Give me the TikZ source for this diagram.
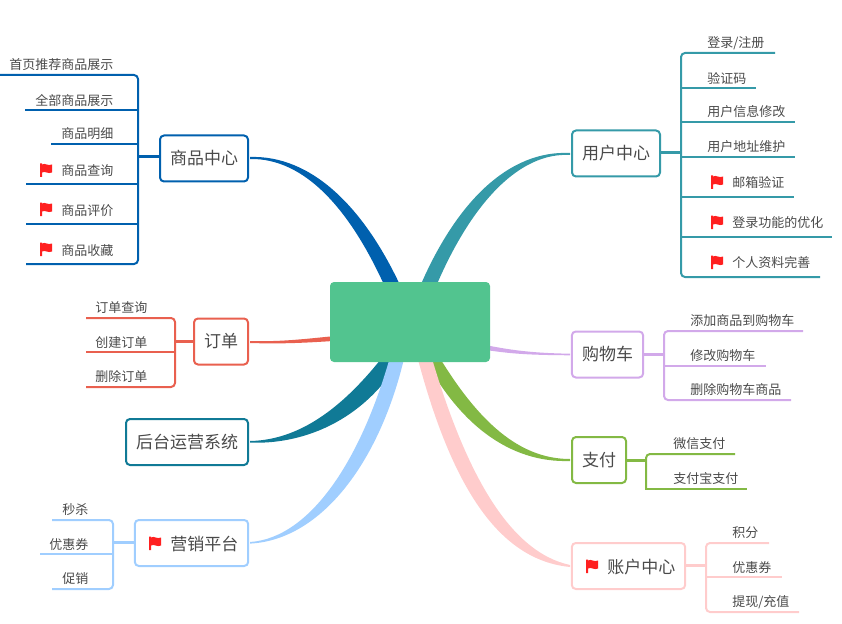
\documentclass[tikz,border=0pt]{standalone}
\usepackage{fontspec}
\setmainfont{Noto Sans CJK SC}
\usetikzlibrary{calc}
\definecolor{txtc}{HTML}{4A4A4A}
\definecolor{rootc}{HTML}{52C48F}
\definecolor{goods}{HTML}{0060AE}
\definecolor{user}{HTML}{359AA8}
\definecolor{order}{HTML}{E9604F}
\definecolor{admin}{HTML}{107A96}
\definecolor{promo}{HTML}{A0CEFF}
\definecolor{cart}{HTML}{D2A9EA}
\definecolor{payc}{HTML}{83B944}
\definecolor{acct}{HTML}{FFCCCC}
\definecolor{flagc}{HTML}{FF2020}
\tikzset{
  x=0.75pt,y=-0.75pt,
  topic/.style={draw,line width=1.5pt,rounded corners=3pt,fill=white,inner sep=0pt,outer sep=0pt,text=txtc,minimum height=34.5pt,font=\fontsize{12.75}{15}\selectfont},
  leaf/.style={text=txtc,inner sep=0pt,anchor=west,font=\fontsize{9.75}{12}\selectfont},
  toptext/.style={text=txtc,inner sep=0pt,anchor=west,font=\fontsize{12.75}{15}\selectfont},
  rule/.style={line width=1.5pt},
  trunk/.style={line width=1.5pt,rounded corners=3pt},
  stem/.style={line width=2.25pt},
}
\newcommand\ruleline[4]{\coordinate (#1a) at (#2,#4);\coordinate (#1b) at (#3,#4);\draw[rule] (#1a) -- (#1b);}
\newcommand\edgeline[4]{\coordinate (#1a) at (#2,#4);\coordinate (#1b) at (#3,#4);}
\newcommand\redflag[1]{\fill[flagc,shift={(#1)}] (-6,-6.5) -- (-4,-6.5) -- (-4,-5.5) .. controls (-1,-7.5) and (2,-3.5) .. (6,-5.5) -- (6,2.5) .. controls (2,4.5) and (-1,0.5) .. (-4,2.5) -- (-4,7) -- (-6,7) -- cycle;}
\begin{document}
\begin{tikzpicture}
\useasboundingbox (0,0) rectangle (842,624);
\coordinate (gE) at (250,158);
\coordinate (uW) at (570,154);
\coordinate (oE) at (250,342);
\coordinate (aE) at (250,441.8);
\coordinate (pE) at (250,542.8);
\coordinate (cW) at (570,354.5);
\coordinate (yW) at (570,460);
\coordinate (zW) at (570,566);
% tapered branches
\fill[goods] ($(gE)+(0,-1)$) .. controls (310,155) and (365,205) .. (405,296) -- (389,296) .. controls (352,210) and (305,158) .. ($(gE)+(0,1)$) -- cycle;
\fill[user] ($(uW)+(0,-1)$) .. controls (510,150) and (455,200) .. (416,296) -- (432,296) .. controls (470,202) and (520,152) .. ($(uW)+(0,1)$) -- cycle;
\fill[order] ($(oE)+(0,-1)$) .. controls (280,342) and (305,339) .. (340,335.5) -- (340,340.5) .. controls (305,343) and (280,344) .. ($(oE)+(0,1)$) -- cycle;
\fill[cart] ($(cW)+(0,-0.8)$) .. controls (530,353) and (510,350) .. (480,344) -- (480,349) .. controls (510,354) and (530,355) .. ($(cW)+(0,0.8)$) -- cycle;
\fill[admin] ($(aE)+(0,-0.8)$) .. controls (305,440) and (350,400) .. (388,350) -- (405,350) .. controls (375,410) and (315,445) .. ($(aE)+(0,0.8)$) -- cycle;
\fill[promo] ($(pE)+(0,-0.8)$) .. controls (310,538) and (362,460) .. (392,350) -- (406,350) .. controls (382,460) and (322,540) .. ($(pE)+(0,0.8)$) -- cycle;
\fill[payc] ($(yW)+(0,-1)$) .. controls (520,459) and (478,423) .. (435,350) -- (420,350) .. controls (458,425) and (510,463) .. ($(yW)+(0,1)$) -- cycle;
\fill[acct] ($(zW)+(0,1)$) .. controls (500,560) and (450,490) .. (413,340) -- (428,345) .. controls (465,475) and (510,552) .. ($(zW)+(0,-1)$) -- cycle;
% root
\node[fill=rootc,rounded corners=3pt,inner sep=0pt,minimum width=120pt,minimum height=60pt] (root) at (410,322) {};
% 商品中心
\begin{scope}[color=goods]
\node[topic,minimum width=66pt] (goodsbox) at (204,158.5) {商品中心};
\edgeline{g1}{0}{138}{75}\ruleline{g2}{25}{138}{110}\ruleline{g3}{51}{138}{144}\ruleline{g4}{26}{138}{184}\ruleline{g5}{26}{138}{224}\edgeline{g6}{26}{138}{264}
\coordinate (gT) at (138,157);
\draw[trunk] (g1a) -- (g1b) -- (g6b) -- (g6a);
\draw[stem] (goodsbox.west |- gT) -- (gT);
\end{scope}
\node[leaf] (g1t) at (9,65) {首页推荐商品展示};
\node[leaf] (g2t) at (35,100) {全部商品展示};
\node[leaf] (g3t) at (61,134) {商品明细};
\node[leaf] (g4t) at (61,171) {商品查询};
\node[leaf] (g5t) at (61,211) {商品评价};
\node[leaf] (g6t) at (61,251) {商品收藏};
\redflag{46,170}\redflag{46,209}\redflag{46,249}
% 用户中心
\begin{scope}[color=user]
\node[topic,minimum width=66pt] (userbox) at (616,153.5) {用户中心};
\edgeline{u1}{681}{775}{53}\ruleline{u2}{681}{756}{88}\ruleline{u3}{681}{795}{122}\ruleline{u4}{681}{795}{157}\ruleline{u5}{681}{794}{197}\ruleline{u6}{681}{832}{237}\edgeline{u7}{681}{820}{277}
\coordinate (uT) at (681,153);
\draw[trunk] (u1b) -- (u1a) -- (u7a) -- (u7b);
\draw[stem] (userbox.east |- uT) -- (uT);
\end{scope}
\node[leaf] (u1t) at (707,43) {登录/注册};
\node[leaf] (u2t) at (707,78) {验证码};
\node[leaf] (u3t) at (707,112) {用户信息修改};
\node[leaf] (u4t) at (707,147) {用户地址维护};
\node[leaf] (u5t) at (732,183) {邮箱验证};
\node[leaf] (u6t) at (732,223) {登录功能的优化};
\node[leaf] (u7t) at (732,263) {个人资料完善};
\redflag{717,182}\redflag{717,222}\redflag{717,262}
% 订单
\begin{scope}[color=order]
\node[topic,minimum width=40.5pt] (orderbox) at (221,341.5) {订单};
\edgeline{o1}{86}{175}{318}\ruleline{o2}{86}{175}{352}\edgeline{o3}{86}{175}{387}
\coordinate (oT) at (175,341);
\draw[trunk] (o1a) -- (o1b) -- (o3b) -- (o3a);
\draw[stem] (orderbox.west |- oT) -- (oT);
\end{scope}
\node[leaf] (o1t) at (95,308) {订单查询};
\node[leaf] (o2t) at (95,343) {创建订单};
\node[leaf] (o3t) at (95,377) {删除订单};
% 后台运营系统
\begin{scope}[color=admin]
\node[topic,minimum width=91.5pt] (adminbox) at (187,442) {后台运营系统};
\end{scope}
% 营销平台
\begin{scope}[color=promo]
\node[topic,minimum width=85pt] (promobox) at (191.5,543) {};
\edgeline{p1}{52}{113}{520}\ruleline{p2}{40}{113}{554}\edgeline{p3}{52}{113}{589}
\coordinate (pT) at (113,542);
\draw[trunk] (p1a) -- (p1b) -- (p3b) -- (p3a);
\draw[stem] (promobox.west |- pT) -- (pT);
\end{scope}
\node[toptext] (ptext) at (170,544) {营销平台};
\redflag{155,543}
\node[leaf] (p1t) at (62,510) {秒杀};
\node[leaf] (p2t) at (49,545) {优惠券};
\node[leaf] (p3t) at (62,579) {促销};
% 购物车
\begin{scope}[color=cart]
\node[topic,minimum width=53.5pt] (cartbox) at (607.5,354.5) {购物车};
\edgeline{c1}{664}{803}{331}\ruleline{c2}{664}{766}{366}\edgeline{c3}{664}{791}{400}
\coordinate (cT) at (664,354);
\draw[trunk] (c1b) -- (c1a) -- (c3a) -- (c3b);
\draw[stem] (cartbox.east |- cT) -- (cT);
\end{scope}
\node[leaf] (c1t) at (690,321) {添加商品到购物车};
\node[leaf] (c2t) at (690,356) {修改购物车};
\node[leaf] (c3t) at (690,390) {删除购物车商品};
% 支付
\begin{scope}[color=payc]
\node[topic,minimum width=40.5pt] (paybox) at (599,460) {支付};
\edgeline{y1}{646}{735}{454}\edgeline{y2}{646}{747}{489}
\coordinate (yT) at (646,460);
\draw[trunk] (y1b) -- (y1a) -- (y2a);
\draw[rule,line cap=rect,shorten >=1pt] (y2a) -- (y2b);
\draw[stem] (paybox.east |- yT) -- (yT);
\end{scope}
\node[leaf] (y1t) at (673,444) {微信支付};
\node[leaf] (y2t) at (673,479) {支付宝支付};
% 账户中心
\begin{scope}[color=acct]
\node[topic,minimum width=85pt] (acctbox) at (628.5,566) {};
\edgeline{z1}{706}{769}{543}\ruleline{z2}{706}{782}{577}\edgeline{z3}{706}{799}{612}
\coordinate (zT) at (706,565);
\draw[trunk] (z1b) -- (z1a) -- (z3a) -- (z3b);
\draw[stem] (acctbox.east |- zT) -- (zT);
\end{scope}
\node[toptext] (ztext) at (607,567) {账户中心};
\redflag{592,566}
\node[leaf] (z1t) at (732,533) {积分};
\node[leaf] (z2t) at (732,568) {优惠券};
\node[leaf] (z3t) at (732,602) {提现/充值};
\end{tikzpicture}
\end{document}
